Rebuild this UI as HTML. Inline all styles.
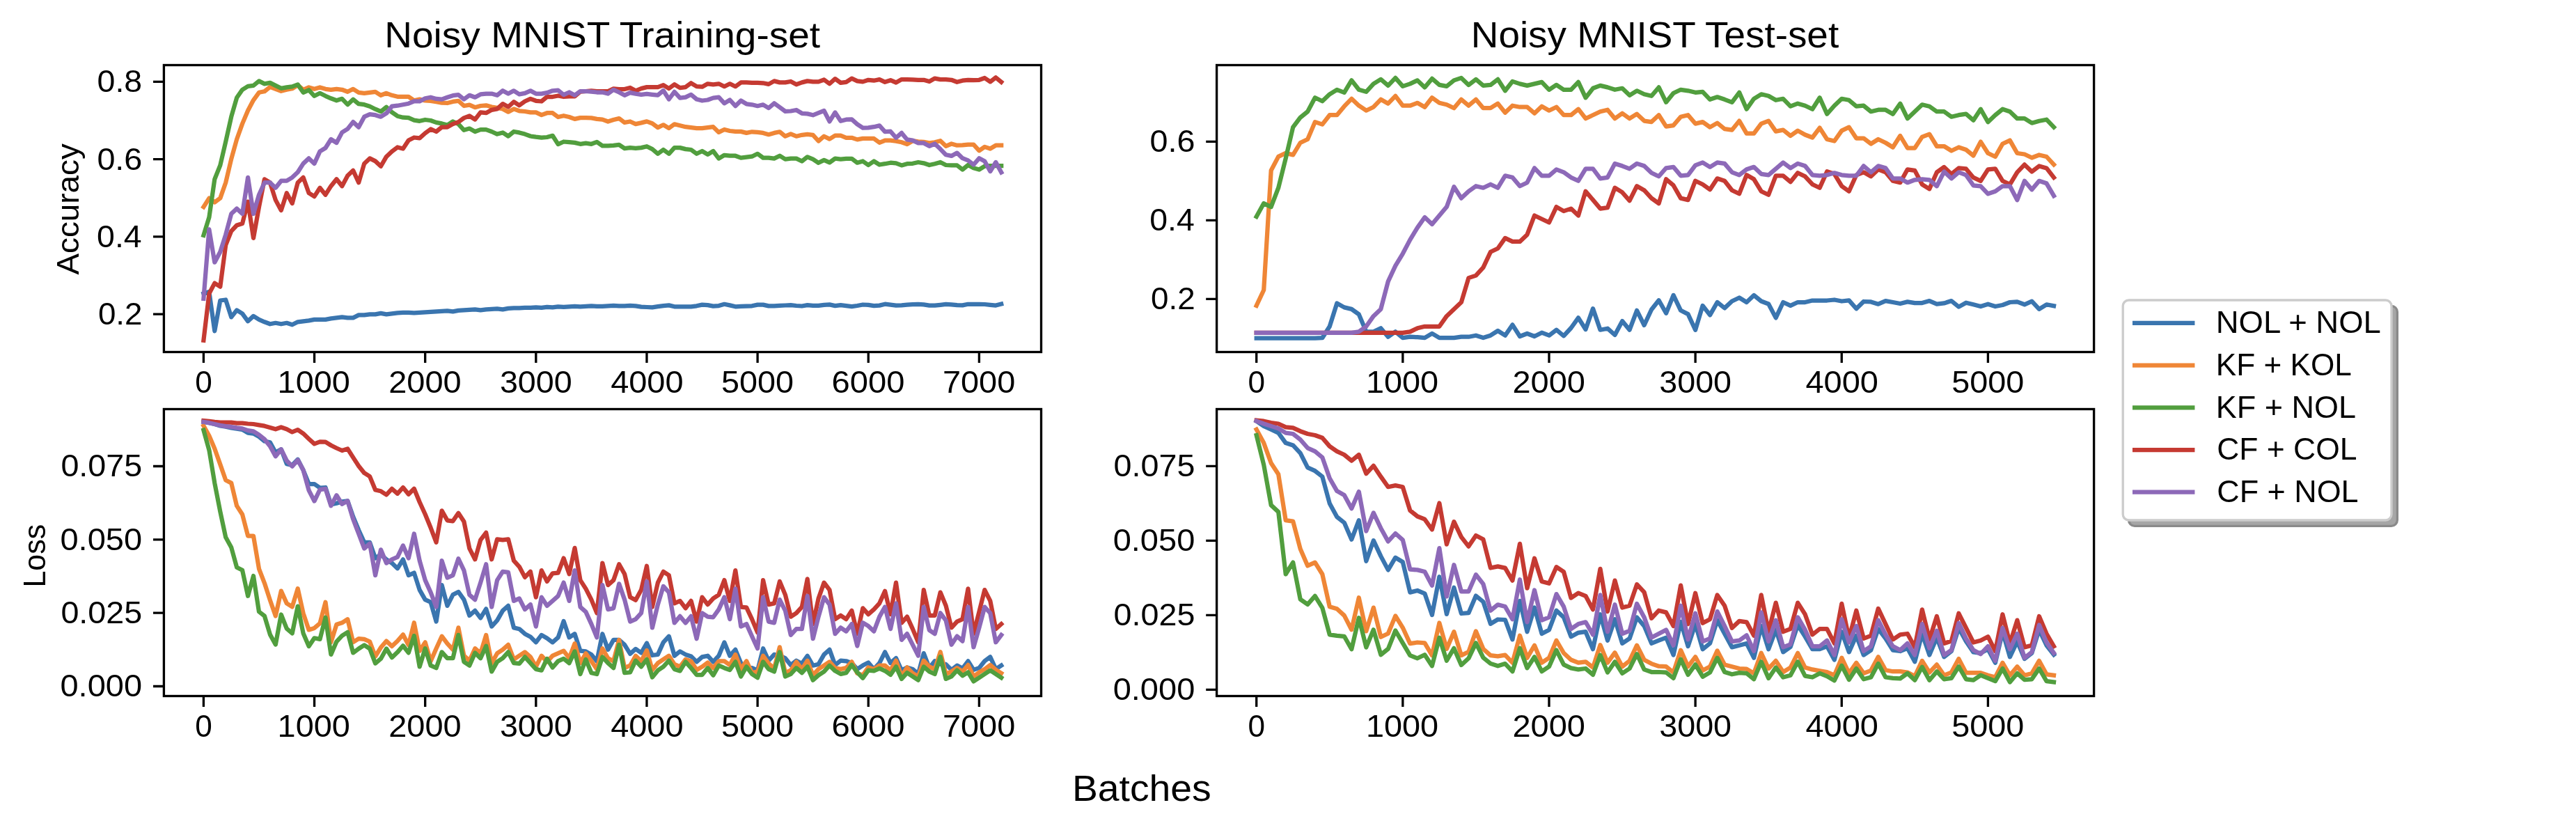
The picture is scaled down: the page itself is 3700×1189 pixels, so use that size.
<!DOCTYPE html><html><head><meta charset="utf-8"><style>html,body{margin:0;padding:0;background:#fff;overflow:hidden}svg{display:block;will-change:transform}</style></head><body><svg width="3700" height="1189" viewBox="0 0 3700 1189" font-family="Liberation Sans, sans-serif">
<rect width="3700" height="1189" fill="#ffffff"/>
<clipPath id="ctl"><rect x="235.4" y="93.5" width="1260.1" height="412.0"/></clipPath>
<g clip-path="url(#ctl)" fill="none" stroke-width="6.25" stroke-linejoin="round" stroke-linecap="square">
<path d="M292.4,421.5 L300.4,419.0 L308.3,475.3 L316.3,431.5 L324.2,430.5 L332.2,455.4 L340.1,445.4 L348.1,450.4 L356.1,461.3 L364.0,453.9 L372.0,458.9 L379.9,462.3 L387.9,465.3 L395.8,463.8 L403.8,465.3 L411.8,463.8 L419.7,466.3 L427.7,462.3 L435.6,461.3 L443.6,460.3 L451.5,458.9 L459.5,458.9 L467.5,458.9 L475.4,457.4 L483.4,456.4 L491.3,455.4 L499.3,456.4 L507.2,456.4 L515.2,452.4 L523.2,452.4 L531.1,451.4 L539.1,451.4 L547.0,449.9 L555.0,451.4 L562.9,450.4 L570.9,449.4 L578.9,448.9 L586.8,448.9 L594.8,449.4 L602.7,448.9 L610.7,448.4 L618.6,447.9 L626.6,447.4 L634.6,446.9 L642.5,446.4 L650.5,447.4 L658.4,445.9 L666.4,445.4 L674.3,444.9 L682.3,444.4 L690.2,445.4 L698.2,444.4 L706.2,443.9 L714.1,443.4 L722.1,444.4 L730.0,442.9 L738.0,442.4 L745.9,442.4 L753.9,441.9 L761.9,441.9 L769.8,441.4 L777.8,441.9 L785.7,440.9 L793.7,441.4 L801.6,440.4 L809.6,440.9 L817.6,440.4 L825.5,439.9 L833.5,440.4 L841.4,439.9 L849.4,439.4 L857.3,439.9 L865.3,439.9 L873.3,439.4 L881.2,438.9 L889.2,439.4 L897.1,439.4 L905.1,438.9 L913.0,439.4 L921.0,440.6 L929.0,441.0 L936.9,441.3 L944.9,440.2 L952.8,439.1 L960.8,438.4 L968.7,440.3 L976.7,440.3 L984.7,440.3 L992.6,440.3 L1000.6,439.3 L1008.5,437.6 L1016.5,438.1 L1024.4,439.6 L1032.4,439.1 L1040.4,436.8 L1048.3,438.4 L1056.3,440.3 L1064.2,439.9 L1072.2,439.6 L1080.1,439.3 L1088.1,437.6 L1096.1,437.6 L1104.0,439.4 L1112.0,439.3 L1119.9,438.9 L1127.9,438.5 L1135.8,438.2 L1143.8,439.0 L1151.8,439.5 L1159.7,438.2 L1167.7,438.8 L1175.6,438.9 L1183.6,437.9 L1191.5,437.4 L1199.5,439.1 L1207.5,438.1 L1215.4,439.1 L1223.4,440.1 L1231.3,439.0 L1239.3,437.5 L1247.2,437.9 L1255.2,439.1 L1263.2,438.6 L1271.1,436.7 L1279.1,437.6 L1287.0,438.6 L1295.0,438.3 L1302.9,437.7 L1310.9,437.2 L1318.9,436.8 L1326.8,437.4 L1334.8,438.7 L1342.7,438.7 L1350.7,437.8 L1358.6,436.9 L1366.6,437.3 L1374.6,438.1 L1382.5,438.4 L1390.5,436.8 L1398.4,436.8 L1406.4,436.9 L1414.3,437.0 L1422.3,437.8 L1430.3,438.6 L1438.2,436.5" stroke="#3a75af"/>
<path d="M292.4,297.1 L300.4,284.6 L308.3,290.6 L316.3,284.6 L324.2,262.2 L332.2,228.4 L340.1,200.0 L348.1,177.6 L356.1,158.7 L364.0,143.8 L372.0,132.8 L379.9,131.3 L387.9,124.9 L395.8,127.8 L403.8,130.8 L411.8,128.8 L419.7,127.3 L427.7,122.4 L435.6,128.8 L443.6,125.4 L451.5,127.8 L459.5,125.4 L467.5,127.8 L475.4,128.8 L483.4,127.8 L491.3,128.8 L499.3,131.8 L507.2,127.8 L515.2,132.8 L523.2,133.8 L531.1,132.8 L539.1,131.8 L547.0,136.8 L555.0,133.8 L562.9,136.8 L570.9,138.8 L578.9,138.8 L586.8,138.8 L594.8,144.3 L602.7,142.6 L610.7,144.5 L618.6,144.8 L626.6,146.2 L634.6,147.7 L642.5,148.0 L650.5,145.9 L658.4,144.8 L666.4,152.0 L674.3,150.6 L682.3,154.2 L690.2,152.0 L698.2,151.3 L706.2,153.5 L714.1,154.9 L722.1,156.4 L730.0,160.7 L738.0,156.4 L745.9,159.3 L753.9,160.0 L761.9,161.4 L769.8,161.4 L777.8,165.1 L785.7,162.2 L793.7,162.2 L801.6,168.0 L809.6,166.2 L817.6,168.0 L825.5,170.9 L833.5,169.1 L841.4,169.1 L849.4,169.4 L857.3,170.9 L865.3,171.6 L873.3,174.5 L881.2,172.0 L889.2,170.1 L897.1,175.9 L905.1,174.5 L913.0,178.1 L921.0,176.4 L929.0,174.4 L936.9,177.3 L944.9,183.1 L952.8,179.3 L960.8,184.1 L968.7,178.3 L976.7,180.2 L984.7,182.2 L992.6,183.1 L1000.6,184.1 L1008.5,184.1 L1016.5,183.1 L1024.4,182.2 L1032.4,189.9 L1040.4,186.0 L1048.3,188.0 L1056.3,188.9 L1064.2,188.9 L1072.2,190.9 L1080.1,189.3 L1088.1,189.9 L1096.1,190.9 L1104.0,193.2 L1112.0,190.9 L1119.9,189.3 L1127.9,195.7 L1135.8,192.4 L1143.8,195.7 L1151.8,193.8 L1159.7,192.8 L1167.7,193.8 L1175.6,202.5 L1183.6,195.7 L1191.5,199.6 L1199.5,194.7 L1207.5,194.7 L1215.4,197.8 L1223.4,197.8 L1231.3,200.4 L1239.3,198.9 L1247.2,198.9 L1255.2,198.9 L1263.2,204.8 L1271.1,201.7 L1279.1,201.7 L1287.0,202.6 L1295.0,204.3 L1302.9,207.0 L1310.9,202.2 L1318.9,203.3 L1326.8,203.9 L1334.8,205.4 L1342.7,204.3 L1350.7,202.2 L1358.6,209.8 L1366.6,206.5 L1374.6,208.7 L1382.5,208.3 L1390.5,207.6 L1398.4,207.6 L1406.4,216.3 L1414.3,210.9 L1422.3,213.5 L1430.3,208.7 L1438.2,208.7" stroke="#ef8636"/>
<path d="M292.4,337.9 L300.4,312.0 L308.3,257.3 L316.3,237.4 L324.2,203.5 L332.2,167.7 L340.1,140.3 L348.1,128.8 L356.1,123.9 L364.0,122.9 L372.0,116.4 L379.9,120.4 L387.9,118.9 L395.8,122.9 L403.8,126.8 L411.8,125.4 L419.7,124.4 L427.7,121.4 L435.6,132.8 L443.6,129.3 L451.5,137.8 L459.5,133.8 L467.5,137.8 L475.4,141.3 L483.4,144.3 L491.3,141.8 L499.3,150.2 L507.2,142.8 L515.2,149.2 L523.2,150.2 L531.1,152.7 L539.1,156.7 L547.0,160.2 L555.0,153.7 L562.9,161.2 L570.9,166.7 L578.9,168.7 L586.8,169.2 L594.8,172.6 L602.7,173.8 L610.7,172.0 L618.6,173.0 L626.6,175.9 L634.6,177.4 L642.5,179.6 L650.5,174.5 L658.4,178.1 L666.4,186.8 L674.3,184.6 L682.3,189.0 L690.2,186.1 L698.2,186.1 L706.2,189.0 L714.1,192.6 L722.1,190.4 L730.0,195.5 L738.0,189.0 L745.9,190.4 L753.9,192.6 L761.9,195.5 L769.8,196.7 L777.8,197.7 L785.7,197.0 L793.7,194.8 L801.6,207.1 L809.6,203.5 L817.6,204.2 L825.5,204.9 L833.5,206.8 L841.4,205.7 L849.4,206.8 L857.3,203.9 L865.3,209.3 L873.3,209.3 L881.2,208.8 L889.2,207.8 L897.1,213.2 L905.1,212.2 L913.0,212.9 L921.0,212.1 L929.0,210.2 L936.9,214.1 L944.9,220.8 L952.8,215.0 L960.8,220.8 L968.7,212.1 L976.7,212.1 L984.7,214.1 L992.6,215.0 L1000.6,220.8 L1008.5,217.0 L1016.5,221.8 L1024.4,217.0 L1032.4,227.6 L1040.4,222.8 L1048.3,223.7 L1056.3,223.7 L1064.2,226.6 L1072.2,225.7 L1080.1,224.7 L1088.1,220.8 L1096.1,226.6 L1104.0,226.6 L1112.0,227.6 L1119.9,223.7 L1127.9,228.6 L1135.8,227.6 L1143.8,227.6 L1151.8,231.5 L1159.7,225.3 L1167.7,228.6 L1175.6,233.8 L1183.6,229.9 L1191.5,233.4 L1199.5,227.6 L1207.5,228.6 L1215.4,227.8 L1223.4,227.8 L1231.3,233.7 L1239.3,231.5 L1247.2,237.0 L1255.2,231.5 L1263.2,236.5 L1271.1,235.2 L1279.1,233.7 L1287.0,234.3 L1295.0,237.4 L1302.9,235.2 L1310.9,234.8 L1318.9,233.0 L1326.8,234.3 L1334.8,237.0 L1342.7,235.2 L1350.7,233.0 L1358.6,237.0 L1366.6,237.4 L1374.6,237.4 L1382.5,243.5 L1390.5,237.0 L1398.4,241.3 L1406.4,243.5 L1414.3,238.7 L1422.3,238.0 L1430.3,238.0 L1438.2,238.0" stroke="#519e3e"/>
<path d="M292.4,488.7 L300.4,421.5 L308.3,406.6 L316.3,411.6 L324.2,351.8 L332.2,331.9 L340.1,323.5 L348.1,321.0 L356.1,289.6 L364.0,341.9 L372.0,297.1 L379.9,257.3 L387.9,262.2 L395.8,287.1 L403.8,302.1 L411.8,277.2 L419.7,292.1 L427.7,262.2 L435.6,254.8 L443.6,277.2 L451.5,282.1 L459.5,269.7 L467.5,279.7 L475.4,267.2 L483.4,257.3 L491.3,267.2 L499.3,252.3 L507.2,244.8 L515.2,262.2 L523.2,234.9 L531.1,227.4 L539.1,231.4 L547.0,238.8 L555.0,224.9 L562.9,217.4 L570.9,211.5 L578.9,213.5 L586.8,201.5 L594.8,197.5 L602.7,198.4 L610.7,191.2 L618.6,185.4 L626.6,189.0 L634.6,182.5 L642.5,182.5 L650.5,178.1 L658.4,175.2 L666.4,169.4 L674.3,166.5 L682.3,171.6 L690.2,161.4 L698.2,162.2 L706.2,157.8 L714.1,156.4 L722.1,149.1 L730.0,153.5 L738.0,146.2 L745.9,151.3 L753.9,145.5 L761.9,141.9 L769.8,144.8 L777.8,145.5 L785.7,139.0 L793.7,139.0 L801.6,137.5 L809.6,139.0 L817.6,138.3 L825.5,138.3 L833.5,131.7 L841.4,131.0 L849.4,130.3 L857.3,131.0 L865.3,131.0 L873.3,131.0 L881.2,127.4 L889.2,128.1 L897.1,128.1 L905.1,125.9 L913.0,130.3 L921.0,127.1 L929.0,125.1 L936.9,125.1 L944.9,125.1 L952.8,122.2 L960.8,127.1 L968.7,121.3 L976.7,126.1 L984.7,125.1 L992.6,119.3 L1000.6,124.2 L1008.5,124.7 L1016.5,120.3 L1024.4,121.3 L1032.4,120.3 L1040.4,124.2 L1048.3,120.3 L1056.3,124.2 L1064.2,118.4 L1072.2,118.4 L1080.1,118.8 L1088.1,118.9 L1096.1,119.3 L1104.0,120.9 L1112.0,116.4 L1119.9,118.4 L1127.9,118.4 L1135.8,117.0 L1143.8,121.3 L1151.8,118.4 L1159.7,116.4 L1167.7,117.4 L1175.6,117.4 L1183.6,114.5 L1191.5,120.3 L1199.5,113.1 L1207.5,118.9 L1215.4,117.8 L1223.4,112.6 L1231.3,116.3 L1239.3,117.4 L1247.2,114.8 L1255.2,115.7 L1263.2,114.1 L1271.1,117.8 L1279.1,115.2 L1287.0,118.5 L1295.0,114.1 L1302.9,114.1 L1310.9,114.3 L1318.9,114.8 L1326.8,114.8 L1334.8,117.0 L1342.7,112.6 L1350.7,114.1 L1358.6,114.1 L1366.6,114.8 L1374.6,117.8 L1382.5,115.7 L1390.5,114.8 L1398.4,115.2 L1406.4,114.8 L1414.3,112.0 L1422.3,117.4 L1430.3,111.3 L1438.2,117.8" stroke="#c53a32"/>
<path d="M292.4,429.0 L300.4,329.4 L308.3,376.7 L316.3,361.8 L324.2,336.9 L332.2,307.0 L340.1,299.6 L348.1,307.0 L356.1,254.8 L364.0,307.0 L372.0,279.7 L379.9,262.2 L387.9,262.2 L395.8,269.7 L403.8,259.7 L411.8,259.7 L419.7,254.8 L427.7,247.3 L435.6,234.9 L443.6,227.4 L451.5,234.9 L459.5,217.4 L467.5,212.5 L475.4,200.0 L483.4,205.0 L491.3,190.1 L499.3,185.1 L507.2,175.1 L515.2,182.6 L523.2,167.7 L531.1,164.2 L539.1,165.2 L547.0,167.7 L555.0,162.7 L562.9,152.7 L570.9,151.7 L578.9,150.2 L586.8,148.7 L594.8,145.3 L602.7,145.5 L610.7,141.2 L618.6,139.7 L626.6,141.9 L634.6,142.6 L642.5,139.7 L650.5,137.2 L658.4,136.1 L666.4,142.6 L674.3,136.8 L682.3,139.7 L690.2,135.4 L698.2,134.6 L706.2,134.6 L714.1,136.8 L722.1,130.3 L730.0,134.6 L738.0,130.3 L745.9,135.4 L753.9,133.9 L761.9,130.3 L769.8,134.6 L777.8,134.6 L785.7,133.2 L793.7,130.3 L801.6,129.6 L809.6,136.1 L817.6,132.5 L825.5,136.8 L833.5,131.0 L841.4,131.0 L849.4,131.7 L857.3,132.5 L865.3,132.5 L873.3,134.6 L881.2,128.8 L889.2,132.5 L897.1,136.8 L905.1,133.2 L913.0,134.6 L921.0,135.8 L929.0,134.8 L936.9,135.8 L944.9,136.7 L952.8,130.0 L960.8,142.5 L968.7,131.9 L976.7,140.6 L984.7,139.6 L992.6,135.8 L1000.6,142.5 L1008.5,144.5 L1016.5,143.5 L1024.4,140.6 L1032.4,139.6 L1040.4,148.3 L1048.3,143.5 L1056.3,152.2 L1064.2,144.5 L1072.2,149.3 L1080.1,150.3 L1088.1,152.2 L1096.1,150.3 L1104.0,155.1 L1112.0,148.3 L1119.9,154.1 L1127.9,159.9 L1135.8,159.5 L1143.8,158.0 L1151.8,162.8 L1159.7,163.4 L1167.7,165.3 L1175.6,162.2 L1183.6,159.0 L1191.5,174.4 L1199.5,161.5 L1207.5,173.8 L1215.4,171.7 L1223.4,171.3 L1231.3,178.3 L1239.3,183.7 L1247.2,183.3 L1255.2,182.2 L1263.2,180.4 L1271.1,189.1 L1279.1,188.7 L1287.0,197.8 L1295.0,190.9 L1302.9,200.4 L1310.9,201.7 L1318.9,205.4 L1326.8,205.4 L1334.8,209.8 L1342.7,206.5 L1350.7,214.1 L1358.6,222.2 L1366.6,223.9 L1374.6,219.6 L1382.5,227.2 L1390.5,230.4 L1398.4,236.5 L1406.4,227.2 L1414.3,231.5 L1422.3,246.1 L1430.3,233.0 L1438.2,247.4" stroke="#8d69b8"/>
</g>
<rect x="235.4" y="93.5" width="1260.10" height="412.00" fill="none" stroke="#000" stroke-width="3.33" stroke-linejoin="miter" stroke-linecap="square"/>
<text transform="translate(280.13,563.80) scale(1.0144,1)" font-size="43.54">0</text>
<text transform="translate(398.59,563.80) scale(1.0763,1)" font-size="43.54">1000</text>
<text transform="translate(558.15,563.80) scale(1.0797,1)" font-size="43.54">2000</text>
<text transform="translate(717.90,563.80) scale(1.0728,1)" font-size="43.54">3000</text>
<text transform="translate(877.18,563.80) scale(1.0776,1)" font-size="43.54">4000</text>
<text transform="translate(1036.07,563.80) scale(1.0740,1)" font-size="43.54">5000</text>
<text transform="translate(1194.61,563.80) scale(1.0818,1)" font-size="43.54">6000</text>
<text transform="translate(1354.01,563.80) scale(1.0764,1)" font-size="43.54">7000</text>
<text transform="translate(140.91,466.00) scale(1.0512,1)" font-size="43.54">0.2</text>
<text transform="translate(139.09,354.75) scale(1.0661,1)" font-size="43.54">0.4</text>
<text transform="translate(139.38,243.50) scale(1.0721,1)" font-size="43.54">0.6</text>
<text transform="translate(139.58,132.25) scale(1.0685,1)" font-size="43.54">0.8</text>
<path d="M292.40,505.50 V520.90 M451.54,505.50 V520.90 M610.68,505.50 V520.90 M769.82,505.50 V520.90 M928.96,505.50 V520.90 M1088.10,505.50 V520.90 M1247.24,505.50 V520.90 M1406.38,505.50 V520.90 M235.40,451.20 H220.00 M235.40,339.95 H220.00 M235.40,228.70 H220.00 M235.40,117.45 H220.00" stroke="#000" stroke-width="3.33" fill="none"/>
<clipPath id="ctr"><rect x="1747.6" y="93.5" width="1260.0" height="412.0"/></clipPath>
<g clip-path="url(#ctr)" fill="none" stroke-width="6.25" stroke-linejoin="round" stroke-linecap="square">
<path d="M1804.7,485.7 L1815.2,485.7 L1825.7,485.7 L1836.2,485.7 L1846.7,485.7 L1857.2,485.7 L1867.7,485.7 L1878.2,485.7 L1888.8,485.7 L1899.3,485.2 L1909.8,468.8 L1920.3,435.5 L1930.8,441.4 L1941.3,443.9 L1951.8,451.4 L1962.3,476.3 L1972.8,476.3 L1983.3,471.3 L1993.8,483.7 L2004.3,476.3 L2014.8,485.2 L2025.3,483.7 L2035.9,484.2 L2046.4,485.2 L2056.9,478.8 L2067.4,485.2 L2077.9,485.2 L2088.4,485.2 L2098.9,483.7 L2109.4,483.7 L2119.9,481.7 L2130.4,485.0 L2140.9,481.7 L2151.4,475.0 L2161.9,481.7 L2172.4,466.4 L2183.0,483.0 L2193.5,479.0 L2204.0,483.0 L2214.5,477.7 L2225.0,481.7 L2235.5,473.7 L2246.0,482.3 L2256.5,471.0 L2267.0,456.4 L2277.5,473.0 L2288.0,443.1 L2298.5,473.7 L2309.0,471.7 L2319.5,481.0 L2330.1,461.1 L2340.6,473.7 L2351.1,445.8 L2361.6,467.0 L2372.1,444.5 L2382.6,431.2 L2393.1,449.8 L2403.6,423.9 L2414.1,445.8 L2424.6,451.1 L2435.1,473.8 L2445.6,438.9 L2456.1,452.4 L2466.6,434.0 L2477.1,442.4 L2487.7,432.5 L2498.2,427.5 L2508.7,434.0 L2519.2,424.0 L2529.7,432.5 L2540.2,436.5 L2550.7,456.4 L2561.2,434.0 L2571.7,438.9 L2582.2,434.0 L2592.7,434.0 L2603.2,431.5 L2613.7,431.5 L2624.2,431.5 L2634.8,430.5 L2645.3,432.5 L2655.8,431.4 L2666.3,443.3 L2676.8,433.0 L2687.3,433.4 L2697.8,436.7 L2708.3,432.1 L2718.8,434.0 L2729.3,436.0 L2739.8,433.4 L2750.3,435.1 L2760.8,435.1 L2771.3,432.1 L2781.9,436.7 L2792.4,435.4 L2802.9,432.1 L2813.4,440.6 L2823.9,434.7 L2834.4,437.3 L2844.9,440.0 L2855.4,436.7 L2865.9,440.0 L2876.4,438.0 L2886.9,434.0 L2897.4,433.4 L2907.9,437.3 L2918.4,432.7 L2928.9,443.9 L2939.5,437.3 L2950.0,439.3" stroke="#3a75af"/>
<path d="M1804.7,438.9 L1815.2,416.5 L1825.7,244.8 L1836.2,224.9 L1846.7,219.9 L1857.2,222.4 L1867.7,205.0 L1878.2,200.0 L1888.8,175.1 L1899.3,178.6 L1909.8,165.2 L1920.3,165.2 L1930.8,152.7 L1941.3,141.8 L1951.8,151.7 L1962.3,158.7 L1972.8,153.7 L1983.3,142.8 L1993.8,148.7 L2004.3,137.8 L2014.8,151.7 L2025.3,151.7 L2035.9,147.8 L2046.4,153.7 L2056.9,140.3 L2067.4,147.8 L2077.9,150.2 L2088.4,155.2 L2098.9,142.8 L2109.4,151.7 L2119.9,142.8 L2130.4,155.2 L2140.9,155.2 L2151.4,148.7 L2161.9,161.7 L2172.4,151.7 L2183.0,153.7 L2193.5,153.7 L2204.0,162.7 L2214.5,152.7 L2225.0,158.7 L2235.5,153.7 L2246.0,165.2 L2256.5,165.2 L2267.0,156.7 L2277.5,170.2 L2288.0,165.2 L2298.5,160.2 L2309.0,157.7 L2319.5,170.2 L2330.1,162.7 L2340.6,170.2 L2351.1,163.7 L2361.6,173.6 L2372.1,175.1 L2382.6,165.2 L2393.1,181.6 L2403.6,180.1 L2414.1,167.7 L2424.6,165.2 L2435.1,177.6 L2445.6,175.1 L2456.1,182.6 L2466.6,176.6 L2477.1,185.1 L2487.7,186.6 L2498.2,173.6 L2508.7,191.6 L2519.2,191.6 L2529.7,177.6 L2540.2,173.6 L2550.7,188.6 L2561.2,186.6 L2571.7,195.0 L2582.2,187.6 L2592.7,193.5 L2603.2,197.5 L2613.7,183.6 L2624.2,200.0 L2634.8,202.5 L2645.3,187.6 L2655.8,182.6 L2666.3,198.5 L2676.8,198.5 L2687.3,206.5 L2697.8,200.0 L2708.3,205.0 L2718.8,211.5 L2729.3,195.0 L2739.8,212.5 L2750.3,212.5 L2760.8,196.6 L2771.3,192.6 L2781.9,210.0 L2792.4,210.0 L2802.9,216.5 L2813.4,211.5 L2823.9,215.0 L2834.4,223.5 L2844.9,203.6 L2855.4,220.0 L2865.9,225.0 L2876.4,206.5 L2886.9,201.6 L2897.4,220.0 L2907.9,221.5 L2918.4,226.5 L2928.9,222.5 L2939.5,225.0 L2950.0,236.4" stroke="#ef8636"/>
<path d="M1804.7,311.0 L1815.2,292.1 L1825.7,297.1 L1836.2,269.7 L1846.7,227.4 L1857.2,182.6 L1867.7,168.7 L1878.2,160.2 L1888.8,140.3 L1899.3,145.3 L1909.8,135.3 L1920.3,128.8 L1930.8,132.8 L1941.3,115.4 L1951.8,128.8 L1962.3,131.8 L1972.8,120.4 L1983.3,113.9 L1993.8,122.9 L2004.3,111.9 L2014.8,123.9 L2025.3,120.4 L2035.9,115.4 L2046.4,125.4 L2056.9,112.9 L2067.4,121.9 L2077.9,123.9 L2088.4,115.4 L2098.9,111.9 L2109.4,121.9 L2119.9,113.9 L2130.4,122.9 L2140.9,121.9 L2151.4,113.9 L2161.9,130.3 L2172.4,116.9 L2183.0,120.4 L2193.5,122.9 L2204.0,120.4 L2214.5,117.9 L2225.0,128.8 L2235.5,121.9 L2246.0,128.8 L2256.5,128.8 L2267.0,117.9 L2277.5,140.3 L2288.0,126.8 L2298.5,122.9 L2309.0,125.4 L2319.5,128.8 L2330.1,126.8 L2340.6,136.8 L2351.1,130.3 L2361.6,135.3 L2372.1,137.8 L2382.6,125.4 L2393.1,146.8 L2403.6,133.8 L2414.1,128.8 L2424.6,130.3 L2435.1,132.8 L2445.6,131.8 L2456.1,142.8 L2466.6,139.3 L2477.1,142.8 L2487.7,146.8 L2498.2,132.8 L2508.7,156.7 L2519.2,141.8 L2529.7,135.3 L2540.2,137.8 L2550.7,143.8 L2561.2,141.8 L2571.7,152.7 L2582.2,148.7 L2592.7,151.7 L2603.2,156.7 L2613.7,140.3 L2624.2,163.7 L2634.8,151.7 L2645.3,141.8 L2655.8,143.8 L2666.3,152.7 L2676.8,151.7 L2687.3,160.2 L2697.8,157.7 L2708.3,157.7 L2718.8,163.7 L2729.3,148.7 L2739.8,170.2 L2750.3,160.2 L2760.8,150.3 L2771.3,152.8 L2781.9,160.2 L2792.4,160.2 L2802.9,167.7 L2813.4,165.2 L2823.9,163.7 L2834.4,172.7 L2844.9,156.7 L2855.4,175.2 L2865.9,165.2 L2876.4,156.7 L2886.9,160.2 L2897.4,170.2 L2907.9,170.2 L2918.4,176.7 L2928.9,173.7 L2939.5,171.7 L2950.0,182.6" stroke="#519e3e"/>
<path d="M1804.7,477.8 L1815.2,477.8 L1825.7,477.8 L1836.2,477.8 L1846.7,477.8 L1857.2,477.8 L1867.7,477.8 L1878.2,477.8 L1888.8,477.8 L1899.3,477.8 L1909.8,477.8 L1920.3,477.8 L1930.8,477.8 L1941.3,477.8 L1951.8,477.8 L1962.3,477.8 L1972.8,477.8 L1983.3,477.8 L1993.8,477.8 L2004.3,477.8 L2014.8,477.8 L2025.3,476.3 L2035.9,471.3 L2046.4,468.8 L2056.9,468.8 L2067.4,468.8 L2077.9,453.9 L2088.4,443.9 L2098.9,434.0 L2109.4,399.1 L2119.9,395.6 L2130.4,384.2 L2140.9,361.8 L2151.4,356.8 L2161.9,341.9 L2172.4,346.9 L2183.0,346.9 L2193.5,336.9 L2204.0,309.5 L2214.5,314.5 L2225.0,319.5 L2235.5,297.1 L2246.0,303.1 L2256.5,299.6 L2267.0,309.5 L2277.5,274.7 L2288.0,287.1 L2298.5,299.6 L2309.0,298.1 L2319.5,269.7 L2330.1,276.2 L2340.6,288.1 L2351.1,267.2 L2361.6,273.2 L2372.1,284.6 L2382.6,292.1 L2393.1,257.3 L2403.6,266.2 L2414.1,284.6 L2424.6,287.1 L2435.1,259.7 L2445.6,264.7 L2456.1,272.2 L2466.6,256.3 L2477.1,259.7 L2487.7,273.2 L2498.2,278.2 L2508.7,251.3 L2519.2,257.3 L2529.7,274.7 L2540.2,279.7 L2550.7,252.3 L2561.2,252.3 L2571.7,261.2 L2582.2,248.3 L2592.7,253.3 L2603.2,264.7 L2613.7,269.7 L2624.2,246.3 L2634.8,249.8 L2645.3,267.2 L2655.8,274.7 L2666.3,251.3 L2676.8,247.3 L2687.3,253.3 L2697.8,243.3 L2708.3,247.3 L2718.8,259.7 L2729.3,262.2 L2739.8,243.3 L2750.3,244.9 L2760.8,264.8 L2771.3,271.3 L2781.9,247.4 L2792.4,239.9 L2802.9,249.9 L2813.4,241.4 L2823.9,242.4 L2834.4,254.9 L2844.9,259.8 L2855.4,243.4 L2865.9,242.4 L2876.4,259.8 L2886.9,264.8 L2897.4,247.4 L2907.9,236.4 L2918.4,246.4 L2928.9,238.4 L2939.5,241.4 L2950.0,254.9" stroke="#c53a32"/>
<path d="M1804.7,477.8 L1815.2,477.8 L1825.7,477.8 L1836.2,477.8 L1846.7,477.8 L1857.2,477.8 L1867.7,477.8 L1878.2,477.8 L1888.8,477.8 L1899.3,477.8 L1909.8,477.8 L1920.3,477.8 L1930.8,477.8 L1941.3,477.8 L1951.8,476.3 L1962.3,468.8 L1972.8,453.9 L1983.3,443.9 L1993.8,404.1 L2004.3,381.7 L2014.8,364.3 L2025.3,344.4 L2035.9,326.9 L2046.4,312.0 L2056.9,322.0 L2067.4,309.5 L2077.9,297.1 L2088.4,268.2 L2098.9,284.6 L2109.4,274.7 L2119.9,267.2 L2130.4,269.7 L2140.9,264.7 L2151.4,269.7 L2161.9,252.3 L2172.4,254.8 L2183.0,267.2 L2193.5,262.2 L2204.0,241.3 L2214.5,252.3 L2225.0,252.3 L2235.5,243.3 L2246.0,247.3 L2256.5,254.8 L2267.0,259.7 L2277.5,242.3 L2288.0,242.3 L2298.5,256.3 L2309.0,254.8 L2319.5,234.9 L2330.1,238.3 L2340.6,242.3 L2351.1,234.9 L2361.6,238.3 L2372.1,248.3 L2382.6,253.3 L2393.1,241.3 L2403.6,239.8 L2414.1,252.3 L2424.6,251.3 L2435.1,237.4 L2445.6,233.4 L2456.1,239.8 L2466.6,233.4 L2477.1,234.9 L2487.7,247.3 L2498.2,251.3 L2508.7,243.3 L2519.2,239.8 L2529.7,249.8 L2540.2,251.3 L2550.7,242.3 L2561.2,233.4 L2571.7,241.3 L2582.2,234.9 L2592.7,238.3 L2603.2,251.3 L2613.7,252.3 L2624.2,251.3 L2634.8,248.3 L2645.3,251.3 L2655.8,252.3 L2666.3,252.3 L2676.8,238.3 L2687.3,247.3 L2697.8,238.3 L2708.3,241.3 L2718.8,256.3 L2729.3,256.3 L2739.8,262.2 L2750.3,258.3 L2760.8,257.3 L2771.3,258.3 L2781.9,267.3 L2792.4,246.4 L2802.9,256.3 L2813.4,247.4 L2823.9,251.4 L2834.4,266.3 L2844.9,267.3 L2855.4,278.3 L2865.9,274.8 L2876.4,267.3 L2886.9,267.3 L2897.4,287.2 L2907.9,259.8 L2918.4,272.3 L2928.9,259.8 L2939.5,263.3 L2950.0,281.2" stroke="#8d69b8"/>
</g>
<rect x="1747.6" y="93.5" width="1260.00" height="412.00" fill="none" stroke="#000" stroke-width="3.33" stroke-linejoin="miter" stroke-linecap="square"/>
<text transform="translate(1792.43,563.80) scale(1.0144,1)" font-size="43.54">0</text>
<text transform="translate(1961.89,563.80) scale(1.0763,1)" font-size="43.54">1000</text>
<text transform="translate(2172.45,563.80) scale(1.0797,1)" font-size="43.54">2000</text>
<text transform="translate(2383.20,563.80) scale(1.0728,1)" font-size="43.54">3000</text>
<text transform="translate(2593.48,563.80) scale(1.0776,1)" font-size="43.54">4000</text>
<text transform="translate(2803.37,563.80) scale(1.0740,1)" font-size="43.54">5000</text>
<text transform="translate(1653.11,444.10) scale(1.0512,1)" font-size="43.54">0.2</text>
<text transform="translate(1651.29,331.15) scale(1.0661,1)" font-size="43.54">0.4</text>
<text transform="translate(1651.58,218.20) scale(1.0721,1)" font-size="43.54">0.6</text>
<path d="M1804.70,505.50 V520.90 M2014.84,505.50 V520.90 M2224.98,505.50 V520.90 M2435.12,505.50 V520.90 M2645.26,505.50 V520.90 M2855.40,505.50 V520.90 M1747.60,429.30 H1732.20 M1747.60,316.35 H1732.20 M1747.60,203.40 H1732.20" stroke="#000" stroke-width="3.33" fill="none"/>
<clipPath id="cbl"><rect x="235.4" y="587.5" width="1260.1" height="412.0"/></clipPath>
<g clip-path="url(#cbl)" fill="none" stroke-width="6.25" stroke-linejoin="round" stroke-linecap="square">
<path d="M292.4,605.9 L300.4,607.2 L308.3,609.0 L316.3,611.4 L324.2,612.6 L332.2,614.4 L340.1,615.7 L348.1,616.8 L356.1,621.7 L364.0,622.6 L372.0,627.1 L379.9,633.5 L387.9,635.3 L395.8,649.8 L403.8,645.2 L411.8,666.1 L419.7,667.9 L427.7,659.7 L435.6,675.1 L443.6,695.0 L451.5,695.0 L459.5,700.5 L467.5,700.0 L475.4,724.5 L483.4,722.8 L491.3,720.3 L499.3,719.3 L507.2,742.0 L515.2,761.3 L523.2,778.8 L531.1,778.8 L539.1,801.6 L547.0,796.3 L555.0,803.3 L562.9,808.6 L570.9,816.3 L578.9,803.3 L586.8,826.1 L594.8,822.6 L602.7,847.1 L610.7,861.1 L618.6,864.6 L626.6,892.6 L634.6,840.1 L642.5,869.9 L650.5,854.1 L658.4,849.9 L666.4,861.1 L674.3,883.9 L682.3,876.9 L690.2,887.4 L698.2,874.4 L706.2,899.6 L714.1,890.9 L722.1,876.9 L730.0,869.9 L738.0,901.4 L745.9,903.2 L753.9,910.2 L761.9,914.4 L769.8,922.4 L777.8,911.9 L785.7,916.5 L793.7,922.4 L801.6,915.4 L809.6,891.9 L817.6,915.4 L825.5,910.2 L833.5,934.7 L841.4,935.4 L849.4,939.9 L857.3,949.4 L865.3,910.2 L873.3,932.9 L881.2,918.9 L889.2,918.9 L897.1,925.9 L905.1,938.9 L913.0,931.9 L921.0,937.5 L929.0,923.5 L936.9,941.0 L944.9,939.9 L952.8,922.4 L960.8,913.7 L968.7,941.7 L976.7,935.4 L984.7,939.9 L992.6,942.4 L1000.6,950.4 L1008.5,943.4 L1016.5,941.7 L1024.4,950.4 L1032.4,941.7 L1040.4,922.4 L1048.3,941.7 L1056.3,932.9 L1064.2,952.2 L1072.2,959.2 L1080.1,959.2 L1088.1,962.7 L1096.1,931.2 L1104.0,948.7 L1112.0,939.9 L1119.9,941.7 L1127.9,945.2 L1135.8,955.0 L1143.8,948.7 L1151.8,952.9 L1159.7,941.7 L1167.7,955.7 L1175.6,953.9 L1183.6,939.9 L1191.5,932.9 L1199.5,955.0 L1207.5,948.6 L1215.4,949.3 L1223.4,952.1 L1231.3,960.9 L1239.3,955.6 L1247.2,951.4 L1255.2,960.9 L1263.2,952.1 L1271.1,936.3 L1279.1,952.1 L1287.0,945.1 L1295.0,962.6 L1302.9,958.4 L1310.9,960.9 L1318.9,967.9 L1326.8,938.1 L1334.8,959.1 L1342.7,949.3 L1350.7,953.9 L1358.6,953.9 L1366.6,961.9 L1374.6,955.6 L1382.5,959.8 L1390.5,949.3 L1398.4,961.9 L1406.4,959.1 L1414.3,949.3 L1422.3,943.3 L1430.3,960.9 L1438.2,955.6" stroke="#3a75af"/>
<path d="M292.4,611.4 L300.4,625.8 L308.3,644.3 L316.3,666.9 L324.2,689.5 L332.2,693.6 L340.1,726.4 L348.1,738.7 L356.1,769.5 L364.0,769.5 L372.0,816.8 L379.9,837.3 L387.9,861.9 L395.8,884.5 L403.8,848.6 L411.8,866.4 L419.7,871.4 L427.7,845.2 L435.6,880.7 L443.6,904.4 L451.5,901.9 L459.5,895.1 L467.5,864.7 L475.4,922.2 L483.4,896.8 L491.3,894.3 L499.3,889.2 L507.2,922.2 L515.2,917.1 L523.2,917.9 L531.1,921.3 L539.1,942.5 L547.0,929.8 L555.0,920.5 L562.9,928.1 L570.9,920.5 L578.9,911.2 L586.8,926.4 L594.8,894.3 L602.7,934.7 L610.7,922.4 L618.6,949.4 L626.6,931.2 L634.6,913.7 L642.5,924.2 L650.5,932.9 L658.4,901.4 L666.4,941.7 L674.3,948.7 L682.3,931.2 L690.2,938.2 L698.2,911.9 L706.2,952.2 L714.1,938.2 L722.1,932.9 L730.0,925.9 L738.0,946.9 L745.9,941.7 L753.9,936.4 L761.9,943.4 L769.8,957.4 L777.8,941.7 L785.7,950.4 L793.7,941.7 L801.6,938.2 L809.6,934.7 L817.6,945.2 L825.5,924.2 L833.5,952.2 L841.4,938.2 L849.4,949.4 L857.3,960.9 L865.3,931.2 L873.3,945.2 L881.2,949.4 L889.2,918.9 L897.1,959.2 L905.1,955.7 L913.0,941.7 L921.0,949.4 L929.0,934.0 L936.9,962.0 L944.9,952.2 L952.8,946.9 L960.8,941.7 L968.7,953.9 L976.7,957.4 L984.7,946.9 L992.6,949.4 L1000.6,962.0 L1008.5,957.4 L1016.5,951.5 L1024.4,959.2 L1032.4,949.4 L1040.4,949.4 L1048.3,955.0 L1056.3,939.9 L1064.2,960.9 L1072.2,949.4 L1080.1,966.2 L1088.1,964.4 L1096.1,941.7 L1104.0,952.9 L1112.0,959.9 L1119.9,929.4 L1127.9,966.2 L1135.8,962.7 L1143.8,950.4 L1151.8,960.9 L1159.7,948.7 L1167.7,969.7 L1175.6,960.9 L1183.6,955.7 L1191.5,950.4 L1199.5,959.2 L1207.5,960.9 L1215.4,959.1 L1223.4,950.4 L1231.3,966.8 L1239.3,969.6 L1247.2,958.4 L1255.2,960.9 L1263.2,955.6 L1271.1,955.6 L1279.1,962.6 L1287.0,948.6 L1295.0,971.4 L1302.9,958.4 L1310.9,966.8 L1318.9,971.4 L1326.8,948.6 L1334.8,957.4 L1342.7,960.9 L1350.7,936.3 L1358.6,967.9 L1366.6,964.4 L1374.6,959.1 L1382.5,964.4 L1390.5,954.9 L1398.4,971.4 L1406.4,965.4 L1414.3,960.9 L1422.3,954.9 L1430.3,961.9 L1438.2,966.8" stroke="#ef8636"/>
<path d="M292.4,617.6 L300.4,646.3 L308.3,693.6 L316.3,734.6 L324.2,771.6 L332.2,786.0 L340.1,814.7 L348.1,818.8 L356.1,855.8 L364.0,827.0 L372.0,878.4 L379.9,884.5 L387.9,911.2 L395.8,925.6 L403.8,882.5 L411.8,902.7 L419.7,909.5 L427.7,870.6 L435.6,909.5 L443.6,928.1 L451.5,916.3 L459.5,917.9 L467.5,886.7 L475.4,939.9 L483.4,921.3 L491.3,912.9 L499.3,907.8 L507.2,937.4 L515.2,931.5 L523.2,926.4 L531.1,931.5 L539.1,952.6 L547.0,945.9 L555.0,931.5 L562.9,944.2 L570.9,936.6 L578.9,927.3 L586.8,937.4 L594.8,912.9 L602.7,957.4 L610.7,931.2 L618.6,955.7 L626.6,959.2 L634.6,936.4 L642.5,945.2 L650.5,945.2 L658.4,911.9 L666.4,950.4 L674.3,955.7 L682.3,937.5 L690.2,945.2 L698.2,927.7 L706.2,964.4 L714.1,950.4 L722.1,945.2 L730.0,936.4 L738.0,952.2 L745.9,952.9 L753.9,943.4 L761.9,952.2 L769.8,960.9 L777.8,962.7 L785.7,945.9 L793.7,958.5 L801.6,949.4 L809.6,945.9 L817.6,952.2 L825.5,935.4 L833.5,968.0 L841.4,946.9 L849.4,966.2 L857.3,968.0 L865.3,943.4 L873.3,952.2 L881.2,959.2 L889.2,925.9 L897.1,966.2 L905.1,965.5 L913.0,948.7 L921.0,957.4 L929.0,946.9 L936.9,972.5 L944.9,962.7 L952.8,957.4 L960.8,948.7 L968.7,960.9 L976.7,963.4 L984.7,950.4 L992.6,959.2 L1000.6,969.0 L1008.5,969.0 L1016.5,959.2 L1024.4,969.7 L1032.4,955.7 L1040.4,959.2 L1048.3,962.0 L1056.3,950.4 L1064.2,971.5 L1072.2,957.4 L1080.1,968.0 L1088.1,973.2 L1096.1,950.4 L1104.0,960.9 L1112.0,964.4 L1119.9,936.4 L1127.9,971.5 L1135.8,968.0 L1143.8,959.2 L1151.8,966.2 L1159.7,957.4 L1167.7,976.7 L1175.6,969.7 L1183.6,964.4 L1191.5,955.7 L1199.5,963.4 L1207.5,967.9 L1215.4,966.1 L1223.4,954.9 L1231.3,965.4 L1239.3,973.8 L1247.2,962.6 L1255.2,963.3 L1263.2,959.8 L1271.1,963.3 L1279.1,968.9 L1287.0,957.4 L1295.0,974.9 L1302.9,966.1 L1310.9,971.4 L1318.9,976.6 L1326.8,957.4 L1334.8,964.4 L1342.7,967.9 L1350.7,943.3 L1358.6,974.9 L1366.6,971.4 L1374.6,962.6 L1382.5,970.3 L1390.5,965.4 L1398.4,978.4 L1406.4,973.1 L1414.3,967.9 L1422.3,962.6 L1430.3,967.9 L1438.2,973.1" stroke="#519e3e"/>
<path d="M292.4,604.1 L300.4,604.8 L308.3,605.9 L316.3,606.7 L324.2,606.7 L332.2,606.7 L340.1,607.7 L348.1,607.7 L356.1,608.5 L364.0,609.0 L372.0,610.3 L379.9,611.7 L387.9,613.9 L395.8,616.3 L403.8,613.5 L411.8,616.3 L419.7,620.4 L427.7,617.2 L435.6,622.6 L443.6,630.2 L451.5,637.4 L459.5,634.4 L467.5,634.6 L475.4,639.5 L483.4,643.5 L491.3,647.0 L499.3,644.5 L507.2,656.9 L515.2,669.2 L523.2,679.2 L531.1,684.1 L539.1,703.5 L547.0,705.3 L555.0,710.5 L562.9,701.8 L570.9,708.8 L578.9,700.0 L586.8,709.8 L594.8,701.8 L602.7,721.0 L610.7,738.5 L618.6,757.8 L626.6,778.8 L634.6,733.3 L642.5,747.3 L650.5,748.3 L658.4,736.8 L666.4,749.0 L674.3,787.6 L682.3,803.3 L690.2,775.3 L698.2,764.8 L706.2,803.3 L714.1,774.3 L722.1,775.3 L730.0,774.3 L738.0,805.1 L745.9,813.8 L753.9,828.9 L761.9,820.8 L769.8,857.6 L777.8,819.1 L785.7,834.9 L793.7,823.3 L801.6,822.6 L809.6,801.6 L817.6,824.3 L825.5,786.9 L833.5,833.1 L841.4,845.4 L849.4,861.1 L857.3,880.4 L865.3,808.6 L873.3,840.1 L881.2,833.1 L889.2,810.3 L897.1,824.3 L905.1,857.6 L913.0,861.8 L921.0,847.1 L929.0,812.8 L936.9,871.6 L944.9,836.6 L952.8,820.8 L960.8,826.1 L968.7,866.4 L976.7,862.9 L984.7,873.4 L992.6,862.9 L1000.6,892.6 L1008.5,857.6 L1016.5,868.1 L1024.4,859.4 L1032.4,854.1 L1040.4,833.1 L1048.3,862.9 L1056.3,819.1 L1064.2,871.6 L1072.2,872.3 L1080.1,889.1 L1088.1,908.4 L1096.1,833.1 L1104.0,868.1 L1112.0,866.4 L1119.9,834.9 L1127.9,854.1 L1135.8,885.6 L1143.8,880.4 L1151.8,871.6 L1159.7,831.3 L1167.7,896.1 L1175.6,859.4 L1183.6,836.6 L1191.5,847.1 L1199.5,889.1 L1207.5,883.8 L1215.4,889.1 L1223.4,876.8 L1231.3,910.1 L1239.3,873.3 L1247.2,882.1 L1255.2,875.1 L1263.2,866.3 L1271.1,848.8 L1279.1,882.1 L1287.0,836.6 L1295.0,894.3 L1302.9,885.6 L1310.9,903.1 L1318.9,922.3 L1326.8,847.1 L1334.8,883.8 L1342.7,883.8 L1350.7,850.6 L1358.6,869.8 L1366.6,901.3 L1374.6,892.6 L1382.5,889.1 L1390.5,845.3 L1398.4,910.1 L1406.4,878.6 L1414.3,847.1 L1422.3,862.8 L1430.3,903.1 L1438.2,896.1" stroke="#c53a32"/>
<path d="M292.4,605.9 L300.4,607.2 L308.3,609.0 L316.3,610.8 L324.2,612.1 L332.2,613.2 L340.1,614.4 L348.1,615.4 L356.1,618.1 L364.0,619.3 L372.0,624.4 L379.9,630.7 L387.9,640.7 L395.8,655.2 L403.8,645.2 L411.8,661.5 L419.7,669.7 L427.7,660.6 L435.6,675.1 L443.6,704.1 L451.5,719.5 L459.5,703.2 L467.5,701.8 L475.4,726.3 L483.4,711.2 L491.3,723.8 L499.3,719.3 L507.2,745.5 L515.2,766.5 L523.2,787.6 L531.1,780.6 L539.1,826.1 L547.0,789.3 L555.0,808.6 L562.9,803.3 L570.9,799.8 L578.9,783.4 L586.8,801.6 L594.8,766.5 L602.7,805.1 L610.7,833.1 L618.6,850.6 L626.6,871.6 L634.6,805.1 L642.5,829.6 L650.5,826.1 L658.4,802.3 L666.4,819.1 L674.3,854.1 L682.3,861.1 L690.2,836.6 L698.2,810.3 L706.2,871.6 L714.1,833.1 L722.1,820.8 L730.0,821.9 L738.0,862.9 L745.9,859.4 L753.9,875.1 L761.9,868.1 L769.8,899.6 L777.8,857.6 L785.7,869.9 L793.7,862.9 L801.6,855.9 L809.6,836.6 L817.6,862.9 L825.5,819.1 L833.5,871.6 L841.4,878.6 L849.4,896.1 L857.3,915.4 L865.3,840.1 L873.3,875.1 L881.2,873.4 L889.2,838.4 L897.1,861.1 L905.1,892.6 L913.0,889.1 L921.0,880.4 L929.0,834.9 L936.9,901.4 L944.9,868.1 L952.8,841.9 L960.8,850.6 L968.7,894.4 L976.7,884.9 L984.7,894.4 L992.6,884.9 L1000.6,917.2 L1008.5,880.4 L1016.5,885.6 L1024.4,886.3 L1032.4,875.1 L1040.4,857.6 L1048.3,889.1 L1056.3,845.4 L1064.2,899.6 L1072.2,896.1 L1080.1,913.7 L1088.1,931.2 L1096.1,857.6 L1104.0,892.6 L1112.0,894.4 L1119.9,861.1 L1127.9,876.9 L1135.8,911.9 L1143.8,903.2 L1151.8,903.2 L1159.7,855.9 L1167.7,917.2 L1175.6,885.6 L1183.6,857.6 L1191.5,868.1 L1199.5,910.2 L1207.5,901.3 L1215.4,906.6 L1223.4,896.1 L1231.3,927.6 L1239.3,894.3 L1247.2,898.9 L1255.2,906.6 L1263.2,885.6 L1271.1,871.6 L1279.1,903.1 L1287.0,866.3 L1295.0,918.8 L1302.9,910.1 L1310.9,925.8 L1318.9,941.6 L1326.8,871.6 L1334.8,904.8 L1342.7,910.1 L1350.7,880.3 L1358.6,890.8 L1366.6,925.8 L1374.6,913.6 L1382.5,920.6 L1390.5,871.6 L1398.4,929.3 L1406.4,901.3 L1414.3,871.6 L1422.3,880.3 L1430.3,922.3 L1438.2,911.8" stroke="#8d69b8"/>
</g>
<rect x="235.4" y="587.5" width="1260.10" height="412.00" fill="none" stroke="#000" stroke-width="3.33" stroke-linejoin="miter" stroke-linecap="square"/>
<text transform="translate(280.13,1057.80) scale(1.0144,1)" font-size="43.54">0</text>
<text transform="translate(398.59,1057.80) scale(1.0763,1)" font-size="43.54">1000</text>
<text transform="translate(558.15,1057.80) scale(1.0797,1)" font-size="43.54">2000</text>
<text transform="translate(717.90,1057.80) scale(1.0728,1)" font-size="43.54">3000</text>
<text transform="translate(877.18,1057.80) scale(1.0776,1)" font-size="43.54">4000</text>
<text transform="translate(1036.07,1057.80) scale(1.0740,1)" font-size="43.54">5000</text>
<text transform="translate(1194.61,1057.80) scale(1.0818,1)" font-size="43.54">6000</text>
<text transform="translate(1354.01,1057.80) scale(1.0764,1)" font-size="43.54">7000</text>
<text transform="translate(86.46,1000.30) scale(1.0796,1)" font-size="43.54">0.000</text>
<text transform="translate(87.38,894.97) scale(1.0721,1)" font-size="43.54">0.025</text>
<text transform="translate(86.46,789.63) scale(1.0796,1)" font-size="43.54">0.050</text>
<text transform="translate(87.38,684.30) scale(1.0721,1)" font-size="43.54">0.075</text>
<path d="M292.40,999.50 V1014.90 M451.54,999.50 V1014.90 M610.68,999.50 V1014.90 M769.82,999.50 V1014.90 M928.96,999.50 V1014.90 M1088.10,999.50 V1014.90 M1247.24,999.50 V1014.90 M1406.38,999.50 V1014.90 M235.40,985.50 H220.00 M235.40,880.17 H220.00 M235.40,774.84 H220.00 M235.40,669.50 H220.00" stroke="#000" stroke-width="3.33" fill="none"/>
<clipPath id="cbr"><rect x="1747.6" y="587.5" width="1260.0" height="412.0"/></clipPath>
<g clip-path="url(#cbr)" fill="none" stroke-width="6.25" stroke-linejoin="round" stroke-linecap="square">
<path d="M1804.7,604.7 L1815.2,611.9 L1825.7,616.7 L1836.2,621.6 L1846.7,636.1 L1857.2,639.4 L1867.7,650.6 L1878.2,671.3 L1888.8,676.2 L1899.3,684.4 L1909.8,723.0 L1920.3,742.3 L1930.8,750.6 L1941.3,774.7 L1951.8,747.2 L1962.3,805.8 L1972.8,776.2 L1983.3,798.6 L1993.8,818.4 L2004.3,800.7 L2014.8,807.0 L2025.3,850.6 L2035.9,848.0 L2046.4,852.3 L2056.9,883.1 L2067.4,828.2 L2077.9,881.9 L2088.4,843.8 L2098.9,881.0 L2109.4,880.2 L2119.9,855.6 L2130.4,864.1 L2140.9,895.8 L2151.4,889.5 L2161.9,890.0 L2172.4,918.3 L2183.0,862.8 L2193.5,907.2 L2204.0,872.5 L2214.5,910.0 L2225.0,904.4 L2235.5,876.7 L2246.0,886.4 L2256.5,914.2 L2267.0,908.6 L2277.5,907.2 L2288.0,932.2 L2298.5,882.2 L2309.0,919.7 L2319.5,889.2 L2330.1,923.9 L2340.6,916.9 L2351.1,886.4 L2361.6,898.9 L2372.1,923.9 L2382.6,919.7 L2393.1,915.6 L2403.6,940.6 L2414.1,892.8 L2424.6,928.1 L2435.1,896.1 L2445.6,932.2 L2456.1,923.9 L2466.6,890.6 L2477.1,910.0 L2487.7,929.4 L2498.2,926.7 L2508.7,923.9 L2519.2,944.7 L2529.7,898.9 L2540.2,932.2 L2550.7,904.4 L2561.2,936.4 L2571.7,928.9 L2582.2,897.5 L2592.7,914.2 L2603.2,932.2 L2613.7,932.2 L2624.2,928.1 L2634.8,947.5 L2645.3,907.2 L2655.8,936.4 L2666.3,912.8 L2676.8,940.6 L2687.3,933.6 L2697.8,903.1 L2708.3,916.9 L2718.8,933.6 L2729.3,935.0 L2739.8,930.8 L2750.3,950.3 L2760.8,910.0 L2771.3,940.6 L2781.9,915.6 L2792.4,943.3 L2802.9,935.0 L2813.4,901.7 L2823.9,921.1 L2834.4,936.4 L2844.9,937.8 L2855.4,932.2 L2865.9,951.7 L2876.4,907.2 L2886.9,943.3 L2897.4,921.1 L2907.9,946.1 L2918.4,937.8 L2928.9,904.4 L2939.5,926.7 L2950.0,940.0" stroke="#3a75af"/>
<path d="M1804.7,616.7 L1815.2,636.1 L1825.7,665.0 L1836.2,681.0 L1846.7,747.2 L1857.2,748.6 L1867.7,788.2 L1878.2,812.4 L1888.8,807.6 L1899.3,824.5 L1909.8,871.3 L1920.3,874.2 L1930.8,883.9 L1941.3,904.2 L1951.8,858.3 L1962.3,906.4 L1972.8,872.6 L1983.3,914.8 L1993.8,909.8 L2004.3,884.4 L2014.8,901.3 L2025.3,924.1 L2035.9,922.5 L2046.4,923.3 L2056.9,941.1 L2067.4,894.5 L2077.9,931.8 L2088.4,907.2 L2098.9,941.1 L2109.4,936.0 L2119.9,906.4 L2130.4,931.8 L2140.9,941.1 L2151.4,942.3 L2161.9,940.6 L2172.4,951.7 L2183.0,912.8 L2193.5,944.7 L2204.0,926.7 L2214.5,951.7 L2225.0,944.7 L2235.5,919.7 L2246.0,937.8 L2256.5,947.5 L2267.0,951.7 L2277.5,950.3 L2288.0,958.6 L2298.5,926.1 L2309.0,951.7 L2319.5,937.2 L2330.1,957.2 L2340.6,948.9 L2351.1,926.7 L2361.6,947.5 L2372.1,953.1 L2382.6,956.7 L2393.1,957.2 L2403.6,965.6 L2414.1,933.6 L2424.6,957.2 L2435.1,943.3 L2445.6,962.8 L2456.1,957.2 L2466.6,934.4 L2477.1,954.4 L2487.7,957.2 L2498.2,960.0 L2508.7,960.6 L2519.2,966.9 L2529.7,937.8 L2540.2,960.0 L2550.7,948.9 L2561.2,965.0 L2571.7,958.6 L2582.2,937.8 L2592.7,958.6 L2603.2,961.4 L2613.7,963.3 L2624.2,965.0 L2634.8,969.7 L2645.3,944.7 L2655.8,966.9 L2666.3,951.7 L2676.8,966.9 L2687.3,962.8 L2697.8,943.3 L2708.3,962.2 L2718.8,964.2 L2729.3,964.2 L2739.8,965.6 L2750.3,971.1 L2760.8,948.9 L2771.3,965.6 L2781.9,954.4 L2792.4,969.7 L2802.9,965.6 L2813.4,946.1 L2823.9,966.1 L2834.4,966.1 L2844.9,966.1 L2855.4,969.7 L2865.9,972.5 L2876.4,951.7 L2886.9,969.7 L2897.4,957.2 L2907.9,969.7 L2918.4,966.9 L2928.9,948.9 L2939.5,968.3 L2950.0,969.7" stroke="#ef8636"/>
<path d="M1804.7,625.0 L1815.2,667.5 L1825.7,725.4 L1836.2,735.1 L1846.7,824.5 L1857.2,807.6 L1867.7,860.7 L1878.2,867.9 L1888.8,855.9 L1899.3,872.8 L1909.8,911.4 L1920.3,912.9 L1930.8,913.8 L1941.3,932.2 L1951.8,887.3 L1962.3,929.6 L1972.8,904.3 L1983.3,940.2 L1993.8,931.8 L2004.3,905.5 L2014.8,923.3 L2025.3,941.1 L2035.9,945.3 L2046.4,940.2 L2056.9,956.3 L2067.4,915.7 L2077.9,948.7 L2088.4,930.9 L2098.9,955.0 L2109.4,945.3 L2119.9,923.3 L2130.4,944.4 L2140.9,952.9 L2151.4,956.3 L2161.9,953.1 L2172.4,964.2 L2183.0,930.8 L2193.5,959.4 L2204.0,943.3 L2214.5,964.2 L2225.0,957.2 L2235.5,933.6 L2246.0,954.4 L2256.5,959.4 L2267.0,961.4 L2277.5,960.0 L2288.0,968.9 L2298.5,940.6 L2309.0,965.6 L2319.5,950.3 L2330.1,966.9 L2340.6,960.0 L2351.1,939.2 L2361.6,961.4 L2372.1,965.0 L2382.6,965.0 L2393.1,965.6 L2403.6,973.9 L2414.1,946.7 L2424.6,968.9 L2435.1,954.4 L2445.6,971.7 L2456.1,965.6 L2466.6,944.7 L2477.1,965.0 L2487.7,968.3 L2498.2,966.1 L2508.7,966.9 L2519.2,975.3 L2529.7,950.3 L2540.2,973.9 L2550.7,958.6 L2561.2,972.5 L2571.7,969.7 L2582.2,950.3 L2592.7,970.6 L2603.2,972.5 L2613.7,966.9 L2624.2,971.1 L2634.8,977.2 L2645.3,955.8 L2655.8,976.1 L2666.3,960.0 L2676.8,975.3 L2687.3,972.5 L2697.8,953.1 L2708.3,972.5 L2718.8,973.9 L2729.3,974.4 L2739.8,966.9 L2750.3,976.7 L2760.8,957.8 L2771.3,976.7 L2781.9,964.2 L2792.4,975.3 L2802.9,973.9 L2813.4,957.2 L2823.9,975.3 L2834.4,976.7 L2844.9,969.7 L2855.4,973.9 L2865.9,978.1 L2876.4,960.0 L2886.9,979.4 L2897.4,966.9 L2907.9,976.1 L2918.4,975.3 L2928.9,960.0 L2939.5,978.1 L2950.0,979.4" stroke="#519e3e"/>
<path d="M1804.7,603.7 L1815.2,604.7 L1825.7,607.1 L1836.2,608.5 L1846.7,613.4 L1857.2,614.3 L1867.7,619.2 L1878.2,623.0 L1888.8,625.0 L1899.3,628.8 L1909.8,640.9 L1920.3,648.1 L1930.8,653.0 L1941.3,661.7 L1951.8,653.0 L1962.3,680.2 L1972.8,668.8 L1983.3,684.4 L1993.8,699.2 L2004.3,697.1 L2014.8,699.2 L2025.3,733.0 L2035.9,741.5 L2046.4,745.7 L2056.9,760.5 L2067.4,722.5 L2077.9,781.6 L2088.4,749.1 L2098.9,771.1 L2109.4,784.6 L2119.9,769.0 L2130.4,774.5 L2140.9,815.5 L2151.4,813.4 L2161.9,815.6 L2172.4,833.6 L2183.0,780.8 L2193.5,844.7 L2204.0,801.7 L2214.5,835.0 L2225.0,837.8 L2235.5,814.2 L2246.0,821.1 L2256.5,858.6 L2267.0,851.7 L2277.5,855.8 L2288.0,875.3 L2298.5,816.9 L2309.0,878.1 L2319.5,833.6 L2330.1,872.5 L2340.6,869.7 L2351.1,839.2 L2361.6,850.3 L2372.1,887.8 L2382.6,876.7 L2393.1,879.4 L2403.6,898.9 L2414.1,840.6 L2424.6,896.1 L2435.1,851.7 L2445.6,894.7 L2456.1,889.2 L2466.6,854.4 L2477.1,869.7 L2487.7,901.7 L2498.2,891.9 L2508.7,893.3 L2519.2,912.8 L2529.7,854.4 L2540.2,907.2 L2550.7,865.6 L2561.2,907.2 L2571.7,903.1 L2582.2,865.6 L2592.7,882.2 L2603.2,911.4 L2613.7,903.1 L2624.2,903.1 L2634.8,923.9 L2645.3,866.9 L2655.8,916.9 L2666.3,876.7 L2676.8,916.9 L2687.3,912.8 L2697.8,873.9 L2708.3,896.1 L2718.8,918.3 L2729.3,911.4 L2739.8,910.0 L2750.3,929.4 L2760.8,875.3 L2771.3,918.3 L2781.9,885.0 L2792.4,923.9 L2802.9,920.6 L2813.4,880.8 L2823.9,901.7 L2834.4,922.5 L2844.9,919.7 L2855.4,914.2 L2865.9,935.0 L2876.4,882.2 L2886.9,923.9 L2897.4,890.6 L2907.9,929.4 L2918.4,926.7 L2928.9,885.0 L2939.5,910.0 L2950.0,928.1" stroke="#c53a32"/>
<path d="M1804.7,604.7 L1815.2,608.5 L1825.7,611.9 L1836.2,615.3 L1846.7,621.6 L1857.2,623.0 L1867.7,631.2 L1878.2,643.3 L1888.8,648.1 L1899.3,656.8 L1909.8,686.8 L1920.3,705.1 L1930.8,710.9 L1941.3,730.3 L1951.8,706.1 L1962.3,762.6 L1972.8,736.4 L1983.3,758.4 L1993.8,777.4 L2004.3,766.0 L2014.8,775.3 L2025.3,817.6 L2035.9,818.4 L2046.4,821.0 L2056.9,840.8 L2067.4,787.1 L2077.9,856.5 L2088.4,811.2 L2098.9,849.3 L2109.4,849.3 L2119.9,825.2 L2130.4,838.7 L2140.9,876.8 L2151.4,868.3 L2161.9,871.1 L2172.4,889.2 L2183.0,832.2 L2193.5,893.3 L2204.0,847.5 L2214.5,890.6 L2225.0,886.4 L2235.5,853.1 L2246.0,871.1 L2256.5,903.1 L2267.0,896.1 L2277.5,893.3 L2288.0,911.4 L2298.5,854.4 L2309.0,907.2 L2319.5,868.3 L2330.1,910.0 L2340.6,905.8 L2351.1,866.9 L2361.6,886.4 L2372.1,915.6 L2382.6,910.0 L2393.1,904.4 L2403.6,926.7 L2414.1,869.7 L2424.6,918.3 L2435.1,880.8 L2445.6,921.1 L2456.1,916.9 L2466.6,878.1 L2477.1,898.9 L2487.7,921.1 L2498.2,919.7 L2508.7,912.2 L2519.2,935.0 L2529.7,879.4 L2540.2,921.1 L2550.7,890.6 L2561.2,929.4 L2571.7,925.3 L2582.2,886.4 L2592.7,904.4 L2603.2,928.1 L2613.7,928.1 L2624.2,919.7 L2634.8,940.6 L2645.3,889.2 L2655.8,922.5 L2666.3,898.9 L2676.8,935.0 L2687.3,928.1 L2697.8,890.6 L2708.3,911.4 L2718.8,928.1 L2729.3,933.6 L2739.8,923.9 L2750.3,940.6 L2760.8,896.1 L2771.3,930.8 L2781.9,905.8 L2792.4,940.6 L2802.9,933.6 L2813.4,894.7 L2823.9,916.9 L2834.4,933.6 L2844.9,939.2 L2855.4,928.1 L2865.9,948.9 L2876.4,901.7 L2886.9,932.2 L2897.4,910.0 L2907.9,944.7 L2918.4,936.4 L2928.9,897.5 L2939.5,922.5 L2950.0,937.8" stroke="#8d69b8"/>
</g>
<rect x="1747.6" y="587.5" width="1260.00" height="412.00" fill="none" stroke="#000" stroke-width="3.33" stroke-linejoin="miter" stroke-linecap="square"/>
<text transform="translate(1792.43,1057.80) scale(1.0144,1)" font-size="43.54">0</text>
<text transform="translate(1961.89,1057.80) scale(1.0763,1)" font-size="43.54">1000</text>
<text transform="translate(2172.45,1057.80) scale(1.0797,1)" font-size="43.54">2000</text>
<text transform="translate(2383.20,1057.80) scale(1.0728,1)" font-size="43.54">3000</text>
<text transform="translate(2593.48,1057.80) scale(1.0776,1)" font-size="43.54">4000</text>
<text transform="translate(2803.37,1057.80) scale(1.0740,1)" font-size="43.54">5000</text>
<text transform="translate(1598.66,1005.20) scale(1.0796,1)" font-size="43.54">0.000</text>
<text transform="translate(1599.58,898.17) scale(1.0721,1)" font-size="43.54">0.025</text>
<text transform="translate(1598.66,791.13) scale(1.0796,1)" font-size="43.54">0.050</text>
<text transform="translate(1599.58,684.10) scale(1.0721,1)" font-size="43.54">0.075</text>
<path d="M1804.70,999.50 V1014.90 M2014.84,999.50 V1014.90 M2224.98,999.50 V1014.90 M2435.12,999.50 V1014.90 M2645.26,999.50 V1014.90 M2855.40,999.50 V1014.90 M1747.60,990.40 H1732.20 M1747.60,883.37 H1732.20 M1747.60,776.33 H1732.20 M1747.60,669.30 H1732.20" stroke="#000" stroke-width="3.33" fill="none"/>
<text transform="translate(552.27,67.80) scale(1.0533,1)" font-size="52.25">Noisy MNIST Training-set</text>
<text transform="translate(2112.79,67.80) scale(1.0500,1)" font-size="52.25">Noisy MNIST Test-set</text>
<text transform="translate(1539.90,1150.00) scale(1.0587,1)" font-size="52.25">Batches</text>
<text transform="translate(112.50,394.51) rotate(-90) scale(1.0521,1)" font-size="43.54">Accuracy</text>
<text transform="translate(64.90,843.55) rotate(-90) scale(0.9862,1)" font-size="43.54">Loss</text>
<rect x="3057.5299999999997" y="439.33" width="385.8000000000002" height="316.0" rx="8.5" ry="8.5" fill="#a6a6a6" stroke="#8a8a8a" stroke-width="3.33"/>
<rect x="3049.2" y="431.0" width="385.8000000000002" height="316.0" rx="8.5" ry="8.5" fill="#ffffff" stroke="#cccccc" stroke-width="3.33"/>
<path d="M3066.1,463.90 H3149.3" stroke="#3a75af" stroke-width="6.25" stroke-linecap="square"/>
<text transform="translate(3182.74,478.10) scale(1.0442,1)" font-size="43.54">NOL + NOL</text>
<path d="M3066.1,524.60 H3149.3" stroke="#ef8636" stroke-width="6.25" stroke-linecap="square"/>
<text transform="translate(3182.85,538.80) scale(1.0134,1)" font-size="43.54">KF + KOL</text>
<path d="M3066.1,585.30 H3149.3" stroke="#519e3e" stroke-width="6.25" stroke-linecap="square"/>
<text transform="translate(3182.78,599.50) scale(1.0327,1)" font-size="43.54">KF + NOL</text>
<path d="M3066.1,646.00 H3149.3" stroke="#c53a32" stroke-width="6.25" stroke-linecap="square"/>
<text transform="translate(3184.26,660.20) scale(1.0202,1)" font-size="43.54">CF + COL</text>
<path d="M3066.1,706.70 H3149.3" stroke="#8d69b8" stroke-width="6.25" stroke-linecap="square"/>
<text transform="translate(3184.23,720.90) scale(1.0310,1)" font-size="43.54">CF + NOL</text>
</svg></body></html>
